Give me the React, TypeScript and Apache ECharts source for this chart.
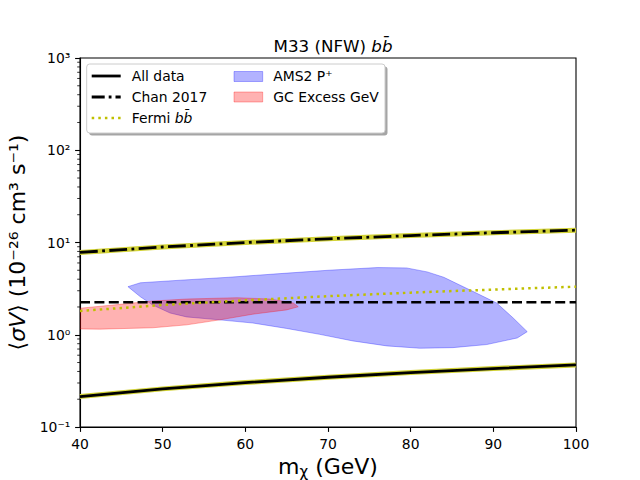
import React, { useEffect, useRef } from "react";
import * as echarts from "echarts";

// ---- data ----
const massPoints = [40, 50, 60, 70, 80, 90, 100];
const allData = [0.214, 0.259, 0.303, 0.346, 0.389, 0.43, 0.471];
const chan2017 = [7.81, 8.94, 9.99, 10.96, 11.89, 12.76, 13.6];
const fermiBB = [1.81, 2.1, 2.36, 2.62, 2.86, 3.09, 3.32];
const thermalMass = [40, 100];
const thermalSigma = [2.25, 2.25];

const amsMass = [45.8, 47.3, 52.1, 58.0, 64.2, 70.0, 76.0, 79.5, 82.0, 84.0, 87.2, 90.4, 92.4, 94.1, 92.9, 89.2, 85.1, 81.1, 77.1, 73.0, 69.0, 65.0, 60.9, 56.9, 52.9, 50.9, 48.8, 47.3];
const amsSigma = [3.32, 3.66, 3.9, 4.2, 4.6, 5.0, 5.35, 5.3, 4.8, 4.2, 3.05, 2.21, 1.52, 1.08, 0.923, 0.783, 0.725, 0.714, 0.757, 0.857, 1.01, 1.17, 1.34, 1.45, 1.56, 1.72, 2.1, 2.58];

const gcMass = [39.0, 44.0, 48.8, 52.9, 59.0, 63.0, 65.8, 66.4, 65.0, 60.9, 56.9, 52.9, 48.8, 42.4, 39.0];
const gcSigma = [1.9, 2.1, 2.32, 2.44, 2.52, 2.44, 2.21, 2.01, 1.86, 1.67, 1.45, 1.28, 1.19, 1.15, 1.16];

const xTicks = [40, 50, 60, 70, 80, 90, 100];
const minorTickValues = [
  0.2, 0.3, 0.4, 0.5, 0.6, 0.7, 0.8, 0.9,
  2, 3, 4, 5, 6, 7, 8, 9,
  20, 30, 40, 50, 60, 70, 80, 90,
  200, 300, 400, 500, 600, 700, 800, 900,
];

const FONT = "DejaVu Sans";
const SUP: Record<string, string> = {
  "-": "\u207B", "0": "\u2070", "1": "\u00B9", "2": "\u00B2", "3": "\u00B3",
  "4": "\u2074", "5": "\u2075", "6": "\u2076", "7": "\u2077", "8": "\u2078", "9": "\u2079",
};
const sup = (s: string) => s.split("").map((c) => SUP[c] || c).join("");

function pairs(xs: number[], ys: number[]) {
  return xs.map((x, i) => [x, ys[i]]);
}

function polygonSeries(name: string, xs: number[], ys: number[], fill: string, stroke: string, z: number) {
  return {
    type: "custom",
    name,
    clip: true,
    z,
    silent: true,
    data: pairs(xs, ys),
    encode: { x: 0, y: 1 },
    renderItem: (params: any, api: any) => {
      if (params.dataIndex !== 0) return null;
      const pts = xs.map((x, i) => api.coord([x, ys[i]]));
      return {
        type: "polygon",
        shape: { points: pts },
        style: { fill, stroke, lineWidth: 1 },
      };
    },
  };
}

export default function App() {
  const ref = useRef<HTMLDivElement>(null);
  useEffect(() => {
    if (!ref.current) return;
    const chart = echarts.init(ref.current, undefined, { renderer: "svg" });
    const L = { x: 86.7, y: 64, w: 298.3, h: 69 };
    const option: any = {
      animation: false,
      backgroundColor: "#ffffff",
      textStyle: { fontFamily: FONT },
      title: {
        text: "M33 (NFW) {i|bb\u0304}",
        left: 328,
        top: 32,
        textAlign: "center",
        textStyle: {
          fontFamily: FONT,
          fontSize: 16.7,
          fontWeight: "normal",
          color: "#000",
          rich: { i: { fontFamily: FONT, fontSize: 16.7, fontStyle: "italic", color: "#000" } },
        },
      },
      grid: {
        left: 80, right: 64, top: 58, bottom: 53,
        containLabel: false,
        outerBoundsMode: "none",
        show: true, borderColor: "#000", borderWidth: 1.1, backgroundColor: "transparent",
      },
      xAxis: {
        type: "value",
        min: xTicks[0],
        max: xTicks[xTicks.length - 1],
        interval: 10,
        name: "m{s|\u03C7} (GeV)",
        nameLocation: "middle",
        nameGap: 26,
        nameTextStyle: {
          fontFamily: FONT,
          fontSize: 22,
          color: "#000",
          rich: { s: { fontFamily: FONT, fontSize: 15, color: "#000", padding: [10, 0, 0, 0] } },
        },
        axisLine: { show: true, lineStyle: { color: "#000", width: 1.1 } },
        axisTick: { show: true, inside: false, length: 4.9, lineStyle: { color: "#000", width: 1.1 } },
        axisLabel: { fontFamily: FONT, fontSize: 13.9, color: "#000", margin: 9.7 },
        splitLine: { show: false },
      },
      yAxis: {
        type: "log",
        logBase: 10,
        min: 0.1,
        max: 1000,
        name: "\u27E8{i|\u03C3V}\u27E9 (10" + sup("-26") + " cm" + sup("3") + " s" + sup("-1") + ")",
        nameLocation: "middle",
        nameRotate: 90,
        nameGap: 40,
        nameTextStyle: {
          fontFamily: FONT,
          fontSize: 22,
          color: "#000",
          rich: { i: { fontFamily: FONT, fontSize: 22, fontStyle: "italic", color: "#000" } },
        },
        axisLine: { show: true, lineStyle: { color: "#000", width: 1.1 } },
        axisTick: { show: true, inside: false, length: 4.9, lineStyle: { color: "#000", width: 1.1 } },
        axisLabel: {
          fontFamily: FONT,
          fontSize: 13.9,
          color: "#000",
          margin: 9.7,
          formatter: (v: number) => "10" + sup(String(Math.round(Math.log10(v)))),
        },
        splitLine: { show: false },
      },
      series: [
        polygonSeries("AMS2 P+", amsMass, amsSigma, "rgba(0,0,255,0.3)", "rgba(0,0,255,0.3)", 1),
        polygonSeries("GC Excess GeV", gcMass, gcSigma, "rgba(255,0,0,0.3)", "rgba(255,0,0,0.3)", 2),
        {
          type: "line", name: "All data halo", data: pairs(massPoints, allData), showSymbol: false, z: 3, silent: true,
          lineStyle: { color: "#d2d236", width: 5 },
        },
        {
          type: "line", name: "All data", data: pairs(massPoints, allData), showSymbol: false, z: 4, silent: true,
          lineStyle: { color: "#000", width: 2.8 },
        },
        {
          type: "line", name: "Chan halo", data: pairs(massPoints, chan2017), showSymbol: false, z: 3, silent: true,
          lineStyle: { color: "#d2d236", width: 5 },
        },
        {
          type: "line", name: "Chan 2017", data: pairs(massPoints, chan2017), showSymbol: false, z: 4, silent: true,
          lineStyle: { color: "#000", width: 2.8, type: [17.8, 4.4, 2.8, 4.4], cap: "butt" },
        },
        {
          type: "line", name: "Thermal", data: pairs(thermalMass, thermalSigma), showSymbol: false, z: 4, silent: true,
          lineStyle: { color: "#000", width: 2.5, type: [10, 4.4], cap: "butt" },
        },
        {
          type: "line", name: "Fermi bb", data: pairs(massPoints, fermiBB), showSymbol: false, z: 5, silent: true,
          lineStyle: { color: "#bfbf00", width: 2.5, type: [2.5, 4.1], cap: "butt" },
        },
        {
          type: "custom", name: "minor", clip: false, silent: true, z: 6,
          data: minorTickValues.map((v) => [xTicks[0], v]),
          encode: { x: 0, y: 1 },
          renderItem: (params: any, api: any) => {
            const p = api.coord([api.value(0), api.value(1)]);
            return {
              type: "line",
              shape: { x1: p[0] - 2.8, y1: p[1], x2: p[0], y2: p[1] },
              style: { stroke: "#000", lineWidth: 0.8 },
            };
          },
        },
      ],
      graphic: [
        { type: "rect", z: 100, shape: { x: L.x + 2.5, y: L.y + 2.5, width: L.w, height: L.h, r: 3 }, style: { fill: "rgba(76,76,76,0.5)" } },
        { type: "rect", z: 101, shape: { x: L.x, y: L.y, width: L.w, height: L.h, r: 3 }, style: { fill: "#ffffff", stroke: "#cccccc", lineWidth: 1 } },
        { type: "line", z: 102, shape: { x1: 91.7, y1: 76, x2: 120.7, y2: 76 }, style: { stroke: "#000", lineWidth: 2.8 } },
        { type: "text", z: 102, x: 131.7, y: 76, style: { text: "All data", fontFamily: FONT, fontSize: 13.9, fill: "#000", verticalAlign: "middle" } },
        { type: "line", z: 102, shape: { x1: 91.7, y1: 97, x2: 120.7, y2: 97 }, style: { stroke: "#000", lineWidth: 2.8, lineDash: [13, 4, 2.8, 4] } },
        { type: "text", z: 102, x: 131.7, y: 97, style: { text: "Chan 2017", fontFamily: FONT, fontSize: 13.9, fill: "#000", verticalAlign: "middle" } },
        { type: "line", z: 102, shape: { x1: 91.7, y1: 118, x2: 120.7, y2: 118 }, style: { stroke: "#bfbf00", lineWidth: 2.5, lineDash: [2.5, 4.1] } },
        {
          type: "text", z: 102, x: 131.7, y: 118,
          style: {
            text: "Fermi {i|bb\u0304}", fontFamily: FONT, fontSize: 13.9, fill: "#000", verticalAlign: "middle",
            rich: { i: { fontFamily: FONT, fontSize: 13.9, fontStyle: "italic", fill: "#000" } },
          },
        },
        { type: "rect", z: 102, shape: { x: 234, y: 71.5, width: 28.7, height: 10 }, style: { fill: "rgba(0,0,255,0.3)", stroke: "rgba(0,0,255,0.3)", lineWidth: 1 } },
        { type: "text", z: 102, x: 273.3, y: 76, style: { text: "AMS2 P\u207A", fontFamily: FONT, fontSize: 13.9, fill: "#000", verticalAlign: "middle" } },
        { type: "rect", z: 102, shape: { x: 234, y: 92, width: 28.7, height: 10 }, style: { fill: "rgba(255,0,0,0.3)", stroke: "rgba(255,0,0,0.3)", lineWidth: 1 } },
        { type: "text", z: 102, x: 273.3, y: 97, style: { text: "GC Excess GeV", fontFamily: FONT, fontSize: 13.9, fill: "#000", verticalAlign: "middle" } },
      ],
    };
    chart.setOption(option);
    return () => chart.dispose();
  }, []);
  return (
    <div
      ref={ref}
      style={{ position: "absolute", left: 0, top: 0, width: 640, height: 480, background: "#fff" }}
    />
  );
}
